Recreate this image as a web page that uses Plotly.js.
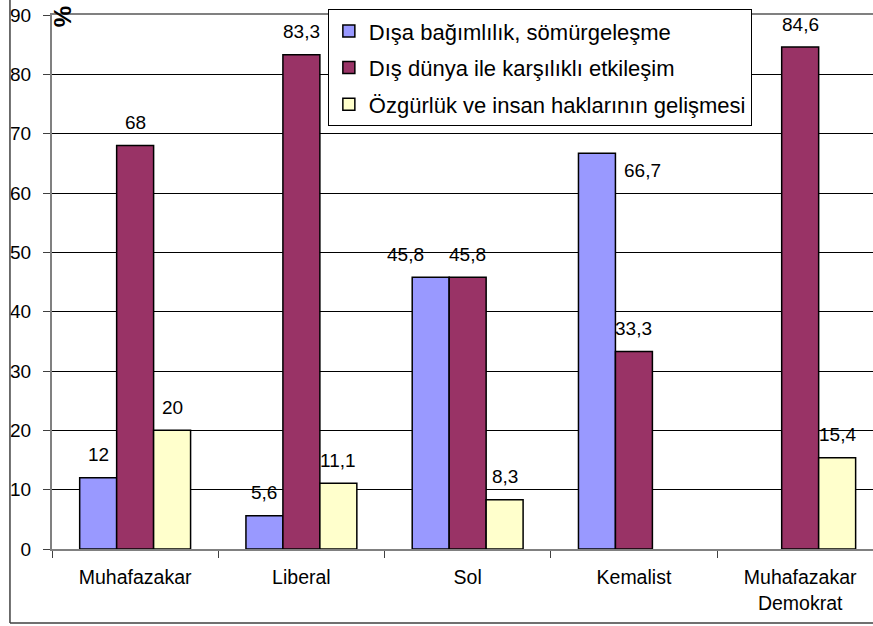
<!DOCTYPE html>
<html>
<head>
<meta charset="utf-8">
<script src="https://cdn.plot.ly/plotly-3.0.1.min.js"></script>
<style>html,body{margin:0;padding:0;background:#fff;}#chart{width:873px;height:626px;}</style>
</head>
<body>
<div id="chart"></div>
<script>
const categories = ['Muhafazakar', 'Liberal', 'Sol', 'Kemalist', 'Muhafazakar<br>Demokrat'];
const seriesNames = ['Dışa bağımlılık, sömürgeleşme', 'Dış dünya ile karşılıklı etkileşim', 'Özgürlük ve insan haklarının gelişmesi'];
const dependence = [12, 5.6, 45.8, 66.7, null];
const interaction = [68, 83.3, 45.8, 33.3, 84.6];
const freedom = [20, 11.1, 8.3, null, 15.4];
const yTicks = [0, 10, 20, 30, 40, 50, 60, 70, 80, 90];

const colors = ['#9999FF', '#993366', '#FFFFCC'];
const seriesValues = [dependence, interaction, freedom];
const FONT = 'Liberation Sans, Arial, sans-serif';
const bargap = 0.333;
const barW = (1 - bargap) / 3;
// manual nudges (px) of some labels, as in the original: key "series-category"
const labelNudge = {'0-2': [-25, 0], '0-3': [46, -40]};

const traces = seriesValues.map((vals, s) => ({
  type: 'bar',
  name: seriesNames[s],
  legendgroup: 'g' + s,
  x: categories,
  y: vals,
  marker: {color: colors[s], line: {color: '#000', width: 1.5}},
  hoverinfo: 'skip'
}));

const annotations = [];
seriesValues.forEach((vals, s) => {
  vals.forEach((v, i) => {
    if (v === null) return;
    const n = labelNudge[s + '-' + i] || [0, 0];
    annotations.push({
      xref: 'x', yref: 'y', x: i + (s - 1) * barW, y: v,
      text: String(v).replace('.', ','),
      showarrow: false, yanchor: 'middle', xanchor: 'center',
      yshift: 23 + n[1], xshift: n[0],
      font: {family: FONT, size: 19, color: '#000'}
    });
  });
});
annotations.push({
  xref: 'paper', yref: 'paper', x: 0.0122, y: 0.996, text: '<b>%</b>',
  showarrow: false, textangle: -90, xanchor: 'center', yanchor: 'middle',
  font: {family: FONT, size: 24, color: '#000'}
});

const layout = {
  width: 873, height: 626,
  margin: {l: 52, r: 0, t: 15, b: 77},
  paper_bgcolor: '#fff', plot_bgcolor: '#fff',
  font: {family: FONT, size: 19, color: '#000'},
  barmode: 'group', bargap: bargap, bargroupgap: 0,
  showlegend: true,
  legend: {
    x: 0.336, y: 1.011, xanchor: 'left', yanchor: 'top',
    bgcolor: '#fff', bordercolor: '#000', borderwidth: 1,
    font: {family: FONT, size: 22, color: '#000'},
    tracegroupgap: 5, traceorder: 'grouped'
  },
  xaxis: {
    type: 'category', range: [-0.5, 4.438], autorange: false,
    showline: true, linecolor: '#808080', linewidth: 2, mirror: true,
    ticks: 'outside', tickson: 'boundaries', ticklen: 7, tickcolor: '#404040', tickwidth: 1,
    ticklabelstandoff: 10,
    showgrid: false, zeroline: false,
    tickfont: {family: FONT, size: 19.5, color: '#000'}
  },
  yaxis: {
    range: [0, 90], autorange: false,
    tickvals: yTicks, ticktext: yTicks.map(String),
    showline: true, linecolor: '#808080', linewidth: 2,
    ticks: 'outside', ticklen: 7, tickcolor: '#404040', tickwidth: 1,
    ticklabelstandoff: 8,
    showgrid: true, gridcolor: '#000', gridwidth: 1, zeroline: false,
    tickfont: {family: FONT, size: 19, color: '#000'}
  },
  annotations: annotations,
  shapes: [
    {type: 'line', xref: 'paper', yref: 'paper', x0: -0.0512, x1: -0.0512, y0: 1.05, y1: -0.1386, line: {color: '#404040', width: 1.5}},
    {type: 'line', xref: 'paper', yref: 'paper', x0: -0.0512, x1: 1.05, y0: -0.1386, y1: -0.1386, line: {color: '#404040', width: 1.5}}
  ]
};

Plotly.newPlot('chart', traces, layout, {displayModeBar: false, staticPlot: true});
</script>
</body>
</html>
